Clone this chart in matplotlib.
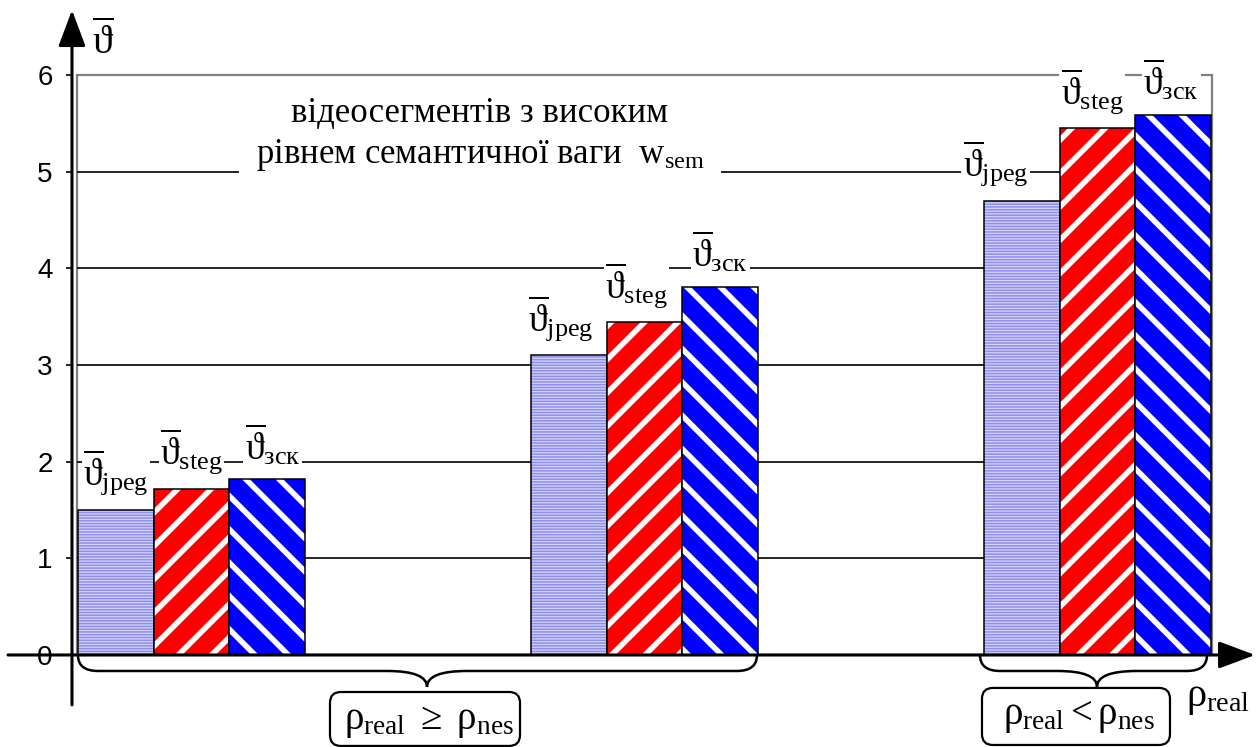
#!/usr/bin/env python3
"""Grouped bar chart: mean values per method for two rho_real regimes."""

import matplotlib
matplotlib.use("Agg")
import matplotlib.pyplot as plt
from matplotlib.patches import FancyBboxPatch, PathPatch, Rectangle
from matplotlib.path import Path

# --- data -------------------------------------------------------------
groups = [0, 1, 2]
methods = ["jpeg", "steg", "зск"]
jpeg_vals = [1.50, 3.10, 4.70]
steg_vals = [1.72, 3.44, 5.45]
zsk_vals = [1.82, 3.81, 5.59]
yticks = [0, 1, 2, 3, 4, 5, 6]
title_lines = ["відеосегментів з високим", r"рівнем семантичної ваги  $\mathrm{w}_{\mathrm{sem}}$"]
cond_labels = [r"$\mathrm{ρ}_{\mathrm{real}}\ \geq\ \mathrm{ρ}_{\mathrm{nes}}$",
               r"$\mathrm{ρ}_{\mathrm{real}} < \mathrm{ρ}_{\mathrm{nes}}$"]

plt.rcParams["mathtext.fontset"] = "custom"
plt.rcParams["mathtext.rm"] = "Liberation Serif"
plt.rcParams["mathtext.it"] = "Liberation Serif:italic"
plt.rcParams["mathtext.bf"] = "Liberation Serif:bold"

SERIF = ["Liberation Serif", "DejaVu Serif"]
SANS = ["Liberation Sans", "DejaVu Sans"]

# px scale of the reference: 453 px per group, 96.67 px per y unit
PX_X = 453.0
PX_Y = 96.67

fig = plt.figure(figsize=(12.59, 7.47), dpi=100)
ax = fig.add_axes([0, 0, 1, 1])
ax.set_xlim(-0.4227, 2.3565)
ax.set_ylim(-0.952, 6.776)
ax.set_facecolor("white")

w = 0.167
styles = [
    dict(face="#d4d4fa", hatch="------", hcol="#8e8eee", hlw=1.1),
    dict(face="#ff0000", hatch="/", hcol="white", hlw=4.0),
    dict(face="#0000ff", hatch="\\", hcol="white", hlw=4.0),
]
series = [jpeg_vals, steg_vals, zsk_vals]

# plot area frame + gridlines
x_left, x_right = -0.2528, 2.2528
ax.add_patch(Rectangle((x_left, 0), x_right - x_left, 6, fill=False,
                       edgecolor="#808080", lw=1.6, zorder=1))
ax.hlines(yticks[1:-1], x_left, x_right, color="black", lw=1.2, zorder=1)

for k, (vals, st) in enumerate(zip(series, styles)):
    xs = [g + (k - 1) * w for g in groups]
    bars = ax.bar(xs, vals, width=w, color=st["face"], edgecolor="black",
                  lw=1.1, hatch=st["hatch"], zorder=2)
    for b in bars:
        b._hatch_color = matplotlib.colors.to_rgba(st["hcol"])
        if hasattr(b, "set_hatch_linewidth"):
            b.set_hatch_linewidth(st["hlw"])
        if hasattr(b, "set_hatchcolor"):
            b.set_hatchcolor(st["hcol"])

# value labels above bars
label_dx = [[0.0, 0.0, 0.012], [-0.018, -0.018, 0.0], [-0.058, -0.012, -0.004]]
for k, (vals, name) in enumerate(zip(series, methods)):
    for g, v in zip(groups, vals):
        ax.text(g + (k - 1) * w + label_dx[g][k], v + 0.12,
                r"$\overline{\mathrm{ϑ}}_{\mathrm{%s}}$" % name,
                ha="center", va="bottom", fontsize=27, zorder=4,
                bbox=dict(facecolor="white", edgecolor="none", pad=1.0))

# title block in the chart
ax.text(0.637, 5.38, "\n".join(title_lines), ha="center", va="center",
        fontsize=25, family=SERIF, linespacing=1.3, zorder=4,
        bbox=dict(facecolor="white", edgecolor="none", pad=12))

# axes with arrows
y_axis_x = -0.2638
ax.annotate("", xy=(y_axis_x, 6.672), xytext=(y_axis_x, -0.517),
            arrowprops=dict(arrowstyle="-|>,head_length=0.8,head_width=0.3",
                            lw=2.2, color="black",
                            mutation_scale=28, shrinkA=0, shrinkB=0), zorder=5)
ax.annotate("", xy=(2.3477, 0), xytext=(-0.4051, 0),
            arrowprops=dict(arrowstyle="-|>,head_length=0.8,head_width=0.3",
                            lw=2.2, color="black",
                            mutation_scale=28, shrinkA=0, shrinkB=0), zorder=5)

for s in ax.spines.values():
    s.set_visible(False)
ax.spines["left"].set_position(("data", y_axis_x))
ax.set_xticks([])
ax.set_yticks(yticks)
ax.set_yticklabels([str(t) for t in yticks], fontsize=20, family=SANS)
ax.tick_params(axis="y", direction="out", length=4, width=1.2, pad=10)

ax.text(y_axis_x + 0.068, 6.33, r"$\overline{\mathrm{ϑ}}$", ha="center",
        va="center", fontsize=29)
ax.text(2.195, -0.43, r"$\mathrm{ρ}_{\mathrm{real}}$", ha="left",
        va="center", fontsize=29)


def brace(x0, x1, xc, r_end=20, r_mid=40, depth=16):
    rx_e, rx_m = r_end / PX_X, r_mid / PX_X
    h = depth / PX_Y
    verts = [(x0, 0), (x0, -h), (x0 + rx_e, -h),
             (xc - rx_m, -h), (xc, -h), (xc, -2 * h),
             (xc, -h), (xc + rx_m, -h),
             (x1 - rx_e, -h), (x1, -h), (x1, 0)]
    codes = [Path.MOVETO, Path.CURVE3, Path.CURVE3,
             Path.LINETO, Path.CURVE3, Path.CURVE3,
             Path.CURVE3, Path.CURVE3,
             Path.LINETO, Path.CURVE3, Path.CURVE3]
    ax.add_patch(PathPatch(Path(verts, codes), fill=False, lw=1.8,
                           edgecolor="black", zorder=3))


brace(-0.2506, 1.2483, 0.5199)
brace(1.7406, 2.2417, 1.9989)

# condition boxes
aspect = PX_X / PX_Y
for (bx0, bx1, by0, by1), txt, (tx, ty) in zip(
        [(0.3057, 0.7252, -0.941, -0.383), (1.745, 2.160, -0.931, -0.341)],
        cond_labels, [(0.524, -0.68), (1.959, -0.63)]):
    ax.add_patch(FancyBboxPatch((bx0, by0), bx1 - bx0, by1 - by0,
                                boxstyle="round,pad=0,rounding_size=0.024",
                                mutation_aspect=aspect, fill=False,
                                edgecolor="black", lw=1.6, zorder=3))
    ax.text(tx, ty, txt, ha="center", va="center", fontsize=28, zorder=4)

fig.savefig("out.png", dpi=100)
